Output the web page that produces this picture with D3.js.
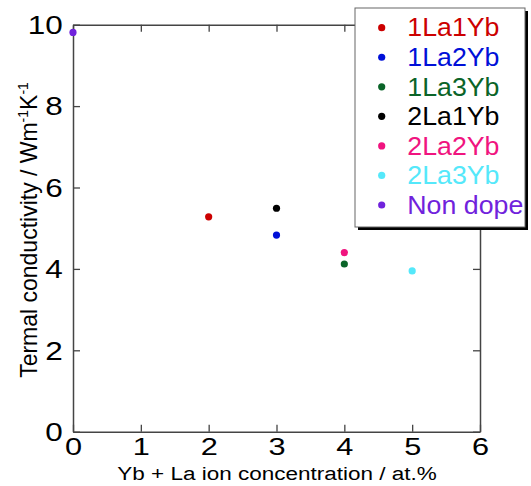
<!DOCTYPE html>
<html>
<head>
<meta charset="utf-8">
<script src="https://cdn.jsdelivr.net/npm/d3@7"></script>
<style>
  body { margin: 0; background: #fff; }
  svg text { font-family: Arial, "Liberation Sans", sans-serif; fill: #000; }
  .axis .domain { stroke: #444; stroke-width: 1.5; }
  .axis .tick line { stroke: #444; stroke-width: 1.3; }
</style>
</head>
<body>
<svg id="chart" width="531" height="486"></svg>
<script>
//sample names, dopant concentration (at.%) and thermal conductivity (W/mK)
var samples = ["1La1Yb", "1La2Yb", "1La3Yb", "2La1Yb", "2La2Yb", "2La3Yb", "Non dope"];
var concentration = [2, 3, 4, 3, 4, 5, 0];
var conductivity = [5.28, 4.83, 4.12, 5.49, 4.40, 3.95, 9.81];

//tick values for both axes
var xTicks = [0, 1, 2, 3, 4, 5, 6];
var yTicks = [0, 2, 4, 6, 8, 10];

//one colour per sample
var sampleColors = ["#cc0000", "#0010d8", "#0a6428", "#000000", "#f0147f", "#55e8fa", "#7022dc"];

//plot box
var plot = {left: 73, right: 480, top: 24.7, bottom: 431.7};

var svg = d3.select("#chart");

var x = d3.scaleLinear()
    .domain([0, 6])
    .range([plot.left, plot.right]);

var y = d3.scaleLinear()
    .domain([0, 10])
    .range([plot.bottom, plot.top]);

var color = d3.scaleOrdinal()
    .domain(samples)
    .range(sampleColors);

//bottom axis with inward ticks
var xAxis = svg.append("g")
    .attr("class", "axis")
    .attr("transform", "translate(0," + plot.bottom + ")")
    .call(d3.axisBottom(x).tickValues(xTicks).tickFormat(d3.format("d"))
        .tickSizeInner(-7).tickSizeOuter(0).tickPadding(6.5));

xAxis.selectAll("text")
    .style("font-size", "24px")
    .attr("transform", "scale(1.28,1)");

//top axis, ticks only
svg.append("g")
    .attr("class", "axis")
    .attr("transform", "translate(0," + plot.top + ")")
    .call(d3.axisTop(x).tickValues(xTicks).tickSizeInner(-7).tickSizeOuter(0).tickFormat(""));

//left axis
var yAxis = svg.append("g")
    .attr("class", "axis")
    .attr("transform", "translate(" + plot.left + ",0)")
    .call(d3.axisLeft(y).tickValues(yTicks).tickFormat(d3.format("d"))
        .tickSizeInner(-7).tickSizeOuter(0).tickPadding(8.2));

yAxis.selectAll("text")
    .style("font-size", "25px")
    .attr("dy", "0.35em")
    .attr("transform", "scale(1.26,1)");

//right axis, ticks only
svg.append("g")
    .attr("class", "axis")
    .attr("transform", "translate(" + plot.right + ",0)")
    .call(d3.axisRight(y).tickValues(yTicks).tickSizeInner(-7).tickSizeOuter(0).tickFormat(""));

//x label
svg.append("text")
    .attr("transform", "translate(277,480.3) scale(1.25,1)")
    .attr("text-anchor", "middle")
    .style("font-size", "18px")
    .text("Yb + La ion concentration / at.%");

//y label with superscripts
var yLabel = svg.append("text")
    .attr("transform", "translate(37.3,230) rotate(-90) scale(1,1.02)")
    .attr("text-anchor", "middle")
    .style("font-size", "23px");
yLabel.append("tspan").text("Termal conductivity / Wm");
yLabel.append("tspan").attr("dy", -9).style("font-size", "14px").text("-1");
yLabel.append("tspan").attr("dy", 9).text("K");
yLabel.append("tspan").attr("dy", -9).style("font-size", "14px").text("-1");

//data points
svg.selectAll(".point")
    .data(samples)
    .enter()
    .append("circle")
    .attr("class", "point")
    .attr("cx", function(d, i) { return x(concentration[i]); })
    .attr("cy", function(d, i) { return y(conductivity[i]); })
    .attr("r", 3.6)
    .attr("fill", function(d) { return color(d); });

//legend box with shadow
var legend = {x: 355, y: 8, width: 170, height: 219, row: 29.55};

svg.append("rect")
    .attr("x", legend.x + 3)
    .attr("y", legend.y + 3)
    .attr("width", legend.width)
    .attr("height", legend.height)
    .attr("fill", "#000");

svg.append("rect")
    .attr("x", legend.x)
    .attr("y", legend.y)
    .attr("width", legend.width)
    .attr("height", legend.height)
    .attr("fill", "#fff")
    .attr("stroke", "#666")
    .attr("stroke-width", 1);

var items = svg.selectAll(".legend-item")
    .data(samples)
    .enter()
    .append("g")
    .attr("class", "legend-item")
    .attr("transform", function(d, i) { return "translate(0," + (legend.y + 19.7 + i * legend.row) + ")"; });

items.append("circle")
    .attr("cx", 381.7)
    .attr("r", 3.6)
    .attr("fill", function(d) { return color(d); });

items.append("text")
    .attr("transform", "translate(407.3,0) scale(1.07,1)")
    .attr("dy", "0.35em")
    .style("font-size", "25px")
    .style("fill", function(d) { return color(d); })
    .text(function(d) { return d; });
</script>
</body>
</html>
